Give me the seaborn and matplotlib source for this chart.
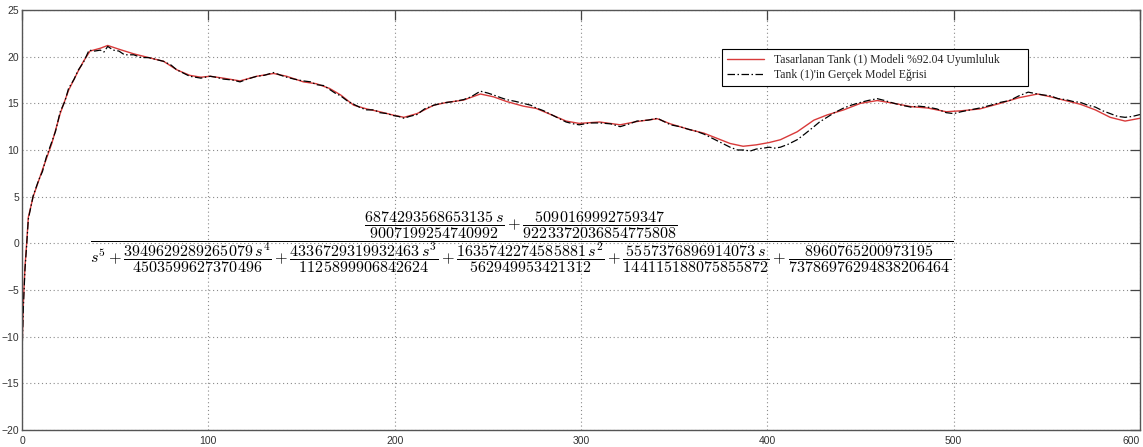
import matplotlib
matplotlib.use("Agg")
import numpy as np
import pandas as pd
import matplotlib.pyplot as plt
import seaborn as sns

# Designed model response (time in s, level)
t_model = [0, 0.8, 1.6, 2.5, 3.4, 6, 11, 16, 20.5, 25, 30, 33, 36.5, 42, 46, 52, 60, 68, 76, 83,
           90, 96, 101, 108, 117, 126, 135, 142, 151, 158, 165, 171, 178, 185, 192, 199, 205, 212,
           221, 228, 237, 246, 253, 260, 269, 276, 285, 292, 299, 310, 321, 330, 341, 348, 358,
           366, 373, 380, 387, 394, 401, 407, 416, 425, 432, 441, 450, 459, 468, 477, 486, 496,
           504, 514, 525, 535, 545, 552, 560, 568, 576, 584, 592, 600]
y_model = [-11.5, -6.0, -2.5, 0.0, 2.8, 5.0, 7.9, 10.7, 13.9, 16.4, 18.4, 19.5, 20.6, 20.9, 21.2,
           20.8, 20.3, 19.9, 19.5, 18.6, 18.0, 17.8, 17.9, 17.7, 17.4, 17.9, 18.2, 17.9, 17.3, 17.1,
           16.6, 15.9, 14.8, 14.4, 14.1, 13.75, 13.5, 13.9, 14.8, 15.1, 15.35, 16.0, 15.7, 15.2,
           14.7, 14.45, 13.7, 13.1, 12.85, 13.0, 12.7, 13.05, 13.35, 12.8, 12.2, 11.8, 11.25, 10.7,
           10.4, 10.55, 10.8, 11.1, 11.95, 13.2, 13.75, 14.3, 15.0, 15.3, 15.0, 14.65, 14.5, 14.1,
           14.2, 14.4, 15.0, 15.6, 16.0, 15.7, 15.3, 14.9, 14.3, 13.5, 13.1, 13.4]

# Measured tank response
t_real = [0, 0.8, 1.6, 2.5, 3.4, 6, 9, 11, 13, 16, 18, 20.5, 23, 25, 28, 30, 33, 36, 39, 42, 44,
          46, 49, 52, 55, 60, 64, 68, 72, 76, 80, 83, 87, 90, 96, 101, 104, 108, 113, 117, 121,
          126, 130, 135, 139, 142, 146, 151, 155, 158, 162, 165, 168, 171, 175, 178, 182, 185,
          189, 192, 196, 199, 202, 205, 208, 212, 216, 221, 225, 228, 232, 237, 241, 246, 250,
          253, 257, 260, 265, 269, 273, 276, 280, 285, 289, 292, 296, 299, 305, 310, 316, 321,
          326, 330, 336, 341, 345, 348, 353, 358, 362, 366, 370, 373, 377, 380, 384, 387, 391,
          394, 398, 401, 404, 407, 411, 416, 420, 425, 428, 432, 436, 441, 445, 450, 454, 459,
          463, 468, 472, 477, 481, 486, 491, 496, 500, 504, 509, 514, 520, 525, 530, 535, 540,
          545, 548, 552, 556, 560, 564, 568, 572, 576, 580, 584, 588, 592, 596, 600]
y_real = [-12.0, -6.5, -2.8, -0.2, 2.6, 5.1, 6.8, 7.7, 9.2, 10.9, 12.0, 14.1, 15.2, 16.6, 17.6,
          18.5, 19.4, 20.7, 20.6, 20.7, 20.5, 21.1, 20.7, 20.6, 20.2, 20.2, 19.9, 19.9, 19.7, 19.5,
          19.1, 18.6, 18.2, 17.9, 17.7, 17.9, 17.8, 17.6, 17.5, 17.3, 17.6, 17.9, 18.0, 18.3, 18.0,
          17.8, 17.6, 17.4, 17.3, 17.0, 16.9, 16.5, 16.1, 15.8, 15.2, 14.9, 14.5, 14.3, 14.3, 14.0,
          13.9, 13.7, 13.6, 13.4, 13.6, 13.8, 14.4, 14.8, 15.0, 15.1, 15.2, 15.4, 15.7, 16.3, 16.1,
          15.9, 15.6, 15.4, 15.2, 15.0, 14.8, 14.5, 14.2, 13.7, 13.3, 13.0, 12.8, 12.7, 12.9, 12.9,
          12.8, 12.5, 12.8, 13.1, 13.2, 13.4, 13.0, 12.7, 12.5, 12.2, 12.0, 11.7, 11.3, 11.0, 10.6,
          10.3, 10.0, 10.0, 9.9, 10.1, 10.2, 10.3, 10.2, 10.3, 10.6, 11.1, 11.7, 12.5, 13.0, 13.5,
          14.0, 14.5, 14.8, 15.1, 15.3, 15.5, 15.3, 15.0, 14.8, 14.6, 14.7, 14.6, 14.4, 14.0, 13.9,
          14.1, 14.3, 14.5, 14.8, 15.1, 15.3, 15.8, 16.2, 16.0, 15.9, 15.8, 15.5, 15.4, 15.2, 15.1,
          14.8, 14.6, 14.2, 13.9, 13.6, 13.5, 13.6, 13.8]

x_ticks = [0, 100, 200, 300, 400, 500, 600]
y_ticks = [-20, -15, -10, -5, 0, 5, 10, 15, 20, 25]

model_label = "Tasarlanan Tank (1) Modeli %92.04 Uyumluluk"
real_label = "Tank (1)'in Gerçek Model Eğrisi"

tf_text = (r"$\dfrac{\dfrac{6874293568653135\,s}{9007199254740992}+"
           r"\dfrac{5090169992759347}{9223372036854775808}}"
           r"{s^5+\dfrac{3949629289265079\,s^4}{4503599627370496}+"
           r"\dfrac{4336729319932463\,s^3}{1125899906842624}+"
           r"\dfrac{1635742274585881\,s^2}{562949953421312}+"
           r"\dfrac{5557376896914073\,s}{144115188075855872}+"
           r"\dfrac{8960765200973195}{73786976294838206464}}$")

sns.set_style("white")
plt.rcParams["mathtext.fontset"] = "cm"
plt.rcParams["font.family"] = ["Liberation Sans", "DejaVu Sans"]

df_model = pd.DataFrame({"t": t_model, "y": y_model})
df_real = pd.DataFrame({"t": t_real, "y": y_real})

fig = plt.figure(figsize=(11.43, 4.47), dpi=100)
ax = fig.add_axes([22 / 1143, 17 / 447, 1118 / 1143, 420 / 447])

sns.lineplot(data=df_model, x="t", y="y", ax=ax, color="#d83a3a", lw=1.0,
             estimator=None, label=model_label)
sns.lineplot(data=df_real, x="t", y="y", ax=ax, color="black", lw=0.9,
             linestyle=(0, (6, 2, 1.2, 2)), estimator=None, label=real_label)

ax.set_xlim(0, 600)
ax.set_ylim(-20, 25)
ax.set_xticks(x_ticks)
ax.set_yticks(y_ticks)
ax.set_xlabel("")
ax.set_ylabel("")
ax.grid(True, linestyle=(0, (1, 2.5)), color="#8a8a8a", lw=0.8)
ax.set_axisbelow(True)
ax.tick_params(direction="in", length=7, width=0.9, color="#444444",
               labelsize=7.5, labelcolor="#333333", top=True, right=True)
ax.tick_params(axis="y", pad=2)
ax.tick_params(axis="x", pad=4)
for s in ax.spines.values():
    s.set_color("#555555")
    s.set_linewidth(1.0)
# keep the last x label inside the figure edge
ax.get_xticklabels()[-1].set_horizontalalignment("right")

ax.text(268.3, 0.15, tf_text, ha="center", va="center", fontsize=11.6, color="black")

leg = ax.legend(loc="upper left", bbox_to_anchor=(0.626, 0.821, 0.274, 0.086),
                mode="expand", prop={"family": "Liberation Serif", "size": 8.5},
                frameon=True, fancybox=False, framealpha=1, edgecolor="black",
                borderpad=0.4, handlelength=3.2, labelspacing=0.3, borderaxespad=0)
leg.get_frame().set_linewidth(0.8)

fig.savefig("out.png", dpi=100)
